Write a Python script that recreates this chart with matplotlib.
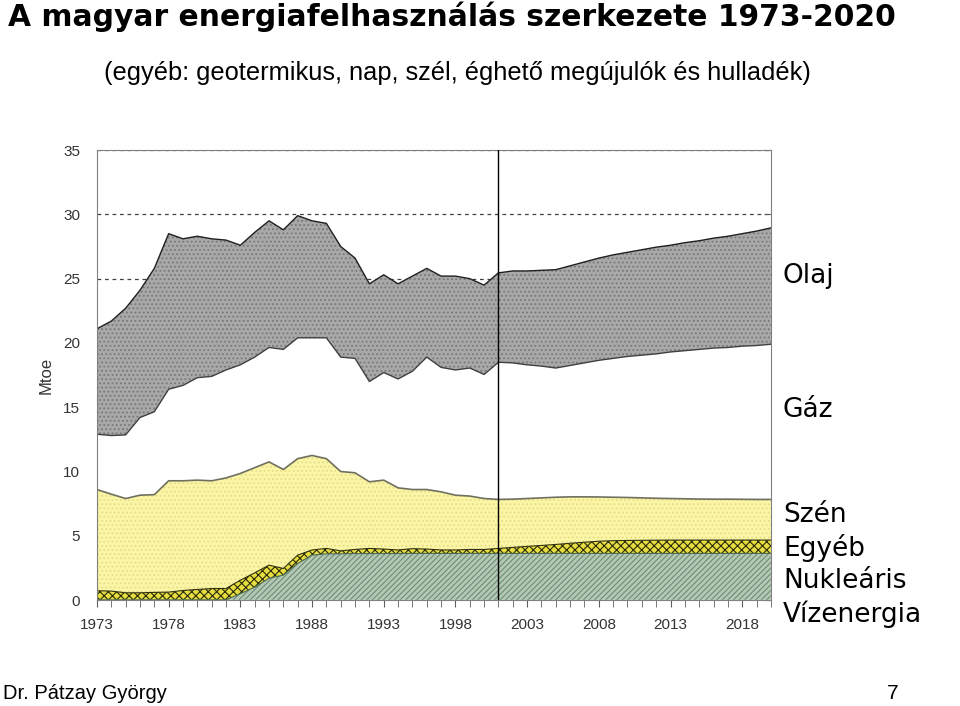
import numpy as np
import matplotlib
matplotlib.use("Agg")
import matplotlib.pyplot as plt

# years 1973..2020
years = np.arange(1973, 2021)

# cumulative layer tops (Mtoe)
total_top = [21.1, 21.7, 22.7, 24.1, 25.8, 28.5, 28.1, 28.3, 28.1, 28.0,
             27.6, 28.6, 29.5, 28.8, 29.9, 29.5, 29.3, 27.5, 26.6, 24.6,
             25.3, 24.6, 25.2, 25.8, 25.2, 25.2, 25.0, 24.5, 25.45, 25.6,
             25.6, 25.65, 25.7, 26.0, 26.3, 26.6, 26.85, 27.05, 27.25, 27.45,
             27.6, 27.8, 27.95, 28.15, 28.3, 28.5, 28.7, 28.95]
gaz_top = [12.9, 12.8, 12.85, 14.2, 14.65, 16.4, 16.7, 17.3, 17.4, 17.9,
           18.3, 18.9, 19.65, 19.5, 20.4, 20.4, 20.4, 18.9, 18.8, 17.0,
           17.7, 17.2, 17.8, 18.9, 18.1, 17.9, 18.05, 17.55, 18.5, 18.45,
           18.3, 18.2, 18.05, 18.25, 18.45, 18.65, 18.8, 18.95, 19.05, 19.15,
           19.3, 19.4, 19.5, 19.6, 19.65, 19.75, 19.8, 19.9]
szen_top = [8.6, 8.24, 7.9, 8.16, 8.2, 9.28, 9.28, 9.33, 9.28, 9.5,
            9.85, 10.3, 10.75, 10.16, 11.0, 11.25, 11.0, 10.0, 9.9, 9.2,
            9.33, 8.73, 8.6, 8.6, 8.42, 8.16, 8.09, 7.9, 7.83, 7.85,
            7.9, 7.95, 8.0, 8.03, 8.03, 8.02, 8.0, 7.98, 7.95, 7.92,
            7.9, 7.88, 7.86, 7.85, 7.85, 7.84, 7.83, 7.83]
egyeb_top = [0.73, 0.7, 0.57, 0.57, 0.6, 0.62, 0.75, 0.83, 0.9, 0.9,
             1.55, 2.12, 2.72, 2.46, 3.5, 3.9, 4.02, 3.83, 3.94, 4.02,
             3.97, 3.9, 4.0, 3.97, 3.9, 3.9, 3.94, 3.94, 4.02, 4.1,
             4.18, 4.25, 4.33, 4.42, 4.5, 4.58, 4.62, 4.64, 4.65, 4.66,
             4.67, 4.67, 4.67, 4.67, 4.67, 4.67, 4.67, 4.67]
nukl_top = [0.02, 0.02, 0.02, 0.02, 0.02, 0.02, 0.02, 0.02, 0.02, 0.02,
            0.5, 1.0, 1.7, 1.95, 2.85, 3.5, 3.6, 3.6, 3.62, 3.62,
            3.62, 3.62, 3.63, 3.63, 3.63, 3.63, 3.63, 3.63, 3.63, 3.63,
            3.63, 3.63, 3.63, 3.63, 3.63, 3.63, 3.63, 3.63, 3.63, 3.63,
            3.63, 3.63, 3.63, 3.63, 3.63, 3.63, 3.63, 3.63]
viz_top = [0.02] * len(years)

label_years = list(range(1973, 2019, 5))
y_ticks = [0, 5, 10, 15, 20, 25, 30, 35]
split_year = 2001

labels = ["Olaj", "Gáz", "Szén", "Egyéb", "Nukleáris", "Vízenergia"]

narrow = ["Liberation Sans Narrow", "Liberation Sans", "DejaVu Sans"]
plt.rcParams["hatch.linewidth"] = 0.8

fig = plt.figure(figsize=(9.6, 7.06), dpi=100)
ax = fig.add_axes([0.101, 0.150, 0.702, 0.6374])

# layers, bottom to top
ax.fill_between(years, 0, viz_top, facecolor="#6fa0d0", lw=0)
ax.fill_between(years, viz_top, nukl_top, facecolor="#b4c8b4", edgecolor="#6e8c78",
                hatch="//////", lw=0)
ax.fill_between(years, nukl_top, egyeb_top, facecolor="#e6de40", edgecolor="#2a2a08",
                hatch="xxxx", lw=0)
ax.fill_between(years, egyeb_top, szen_top, facecolor="#fbf6a6", edgecolor="#e6dc8a",
                hatch="....", lw=0)
ax.fill_between(years, szen_top, gaz_top, facecolor="white", lw=0)
ax.fill_between(years, gaz_top, total_top, facecolor="#a8a8a8", edgecolor="#787878",
                hatch="....", lw=0)

# boundary lines
ax.plot(years, nukl_top, color="#4a6a50", lw=0.8)
ax.plot(years, egyeb_top, color="#303010", lw=0.8)
ax.plot(years, szen_top, color="#707060", lw=1.2)
ax.plot(years, gaz_top, color="#404040", lw=1.0)
ax.plot(years, total_top, color="#202020", lw=1.0)

ax.axvline(split_year, color="black", lw=1.0, zorder=5)

ax.set_xlim(1973, 2020)
ax.set_ylim(0, 35)
ax.set_xticks(label_years)
ax.set_xticks(years, minor=True)
ax.set_yticks(y_ticks)
ax.grid(axis="y", color="#404040", linestyle=(0, (3, 3)), lw=0.9)
ax.set_axisbelow(True)

for s in ax.spines.values():
    s.set_color("#808080")
ax.tick_params(axis="x", which="both", direction="out", length=5, color="#606060",
               labelsize=11, labelcolor="#333333", pad=8)
ax.tick_params(axis="y", which="both", left=False, right=True, direction="in", length=5,
               color="#606060", labelsize=11, labelcolor="#333333", pad=12)
for t in ax.get_xticklabels() + ax.get_yticklabels():
    t.set_family(narrow)
ax.set_ylabel("Mtoe", family=narrow, fontsize=12, color="#333333", labelpad=7)

fig.text(0.008, 0.976, "A magyar energiafelhasználás szerkezete 1973-2020",
         fontsize=21.4, weight="bold", family="DejaVu Sans", va="center", ha="left")
fig.text(0.476, 0.8966, "(egyéb: geotermikus, nap, szél, éghető megújulók és hulladék)",
         fontsize=18.3, family=narrow, va="center", ha="center")

label_y = [0.609, 0.419, 0.2705, 0.2238, 0.177, 0.130]
for lab, yy in zip(labels, label_y):
    fig.text(0.8156, yy, lab, fontsize=19, family="DejaVu Sans", va="center", ha="left")

fig.text(0.003, 0.017, "Dr. Pátzay György", fontsize=14.5, family=narrow, va="center", ha="left")
fig.text(0.930, 0.017, "7", fontsize=15, family=narrow, va="center", ha="center")

fig.savefig("out.png", dpi=100)
